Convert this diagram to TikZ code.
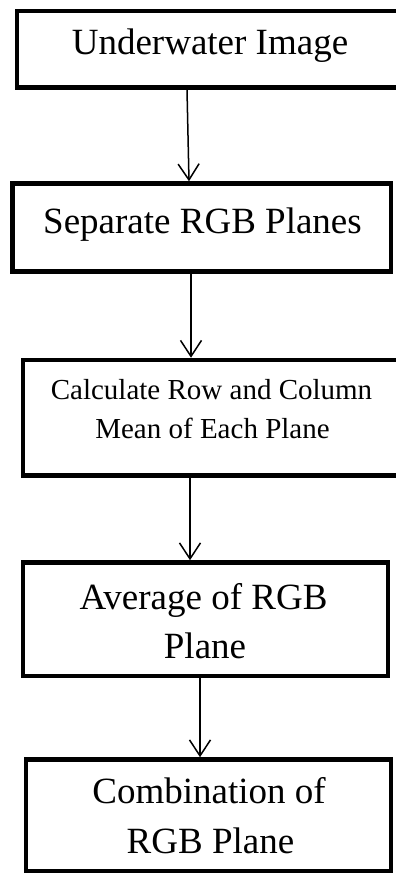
\documentclass[tikz,border=0pt]{standalone}
\usepackage{fontspec}
\setmainfont{Liberation Serif}
\usetikzlibrary{arrows.meta}
\tikzset{
  box/.style={draw=black, line width=4.5pt, rectangle, inner sep=0pt},
  bigtxt/.style={anchor=base, inner sep=0pt, font=\fontsize{37}{44}\selectfont},
  smalltxt/.style={anchor=base, inner sep=0pt, font=\fontsize{29}{35}\selectfont},
  arr/.style={line width=1.5pt, -{Straight Barb[length=16pt, width=21pt, line width=1.5pt]}}
}
\begin{document}
\begin{tikzpicture}[x=1pt, y=-1pt]
\useasboundingbox (0,0) rectangle (396,875);
\clip (0,0) rectangle (396,875);
\fill[white] (0,0) rectangle (396,875);
% boxes
\node[box, minimum width=383pt, minimum height=76.5pt] (b1) at (208.5,49.25) {};
\node[box, minimum width=378.5pt, minimum height=88pt] (b2) at (201.75,227.5) {};
\node[box, minimum width=377pt, minimum height=115.5pt] (b3) at (211.5,417.75) {};
\node[box, minimum width=365pt, minimum height=113.5pt] (b4) at (205.5,619.25) {};
\node[box, minimum width=365pt, minimum height=111.5pt] (b5) at (208.5,815.25) {};
% texts
\node[bigtxt] (t1) at (210,55) {Underwater Image};
\node[bigtxt] (t2) at (202.5,233) {Separate RGB Planes};
\node[smalltxt] (t3a) at (211.5,399) {Calculate Row and Column};
\node[smalltxt] (t3b) at (212.5,438) {Mean of Each Plane};
\node[bigtxt] (t4a) at (203.5,609) {Average of RGB};
\node[bigtxt] (t4b) at (205,658) {Plane};
\node[bigtxt] (t5a) at (209,803) {Combination of};
\node[bigtxt] (t5b) at (210.5,853) {RGB Plane};
% arrow x positions
\coordinate (x1t) at (187,0);
\coordinate (x1b) at (189,0);
\coordinate (x2) at (191,0);
\coordinate (x3) at (190,0);
\coordinate (x4) at (200,0);
% connectors
\draw[arr] (b1.south -| x1t) -- (b2.north -| x1b);
\draw[arr] (b2.south -| x2) -- (b3.north -| x2);
\draw[arr] (b3.south -| x3) -- (b4.north -| x3);
\draw[arr] (b4.south -| x4) -- (b5.north -| x4);
\end{tikzpicture}
\end{document}
